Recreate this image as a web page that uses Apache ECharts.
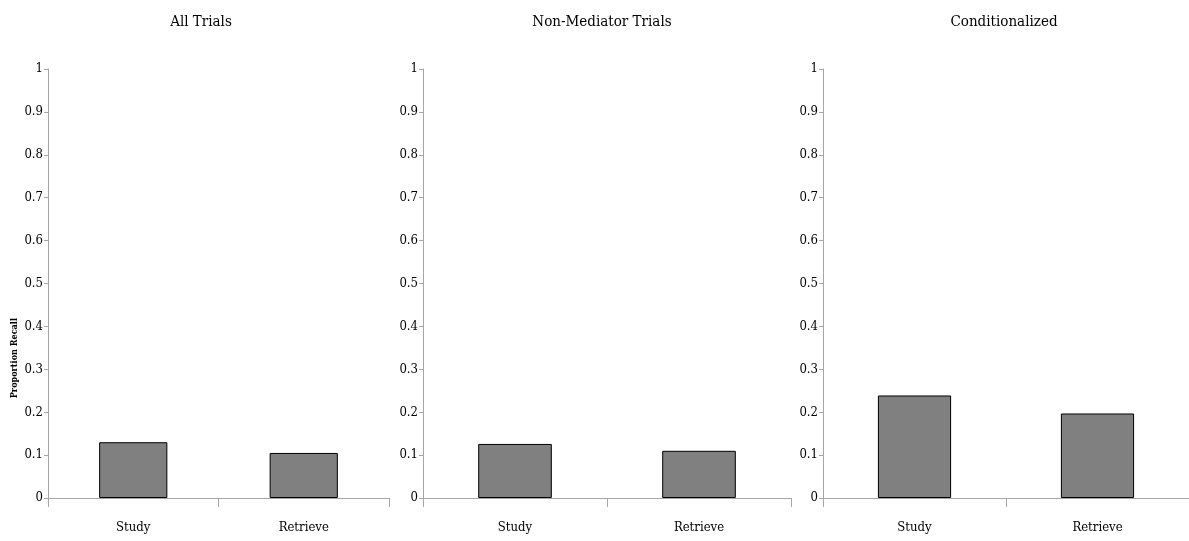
<!DOCTYPE html>
<html>
<head>
<meta charset="utf-8">
<script src="https://cdn.jsdelivr.net/npm/echarts@6/dist/echarts.min.js"></script>
<style>
  html, body { margin: 0; padding: 0; background: #fff; }
  #chart { width: 1189px; height: 541px; }
</style>
</head>
<body>
<div id="chart"></div>
<script>
// --- 数据 ---
const categories = ['Study', 'Retrieve'];
const panelTitles = ['All Trials', 'Non-Mediator Trials', 'Conditionalized'];
const allTrials = [0.13, 0.105];
const nonMediatorTrials = [0.126, 0.11];
const conditionalized = [0.239, 0.197];
const yMin = 0;
const yMax = 1;
const yStep = 0.1;
const yAxisName = 'Proportion Recall';

const seriesData = [allTrials, nonMediatorTrials, conditionalized];

// --- 布局 ---
const FONT = "'DejaVu Serif Condensed', 'Liberation Sans Narrow', 'Liberation Serif', serif";
const AXIS_COLOR = '#a6a6a6';
const panels = [
  { left: 48, width: 341, titleX: 196 },
  { left: 423, width: 368, titleX: 597 },
  { left: 823, width: 370, titleX: 999 }
];

const chart = echarts.init(document.getElementById('chart'));

const option = {
  animation: false,
  title: panels.map((p, i) => ({
    text: panelTitles[i],
    left: p.titleX,
    top: 10,
    textAlign: 'center',
    textStyle: { fontFamily: FONT, fontWeight: 'normal', fontSize: 15, color: '#000' }
  })),
  grid: panels.map(p => ({ left: p.left, width: p.width, top: 69, height: 429 })),
  xAxis: panels.map((p, i) => ({
    type: 'category',
    gridIndex: i,
    data: categories,
    axisLine: { lineStyle: { color: AXIS_COLOR, width: 1 } },
    axisTick: { show: true, length: 9, interval: 0, lineStyle: { color: AXIS_COLOR } },
    axisLabel: { margin: 23, fontFamily: FONT, fontSize: 13, color: '#000' }
  })),
  yAxis: panels.map((p, i) => ({
    type: 'value',
    gridIndex: i,
    min: yMin,
    max: yMax,
    interval: yStep,
    axisLine: { show: true, lineStyle: { color: AXIS_COLOR, width: 1 } },
    axisTick: { show: true, length: 4, lineStyle: { color: AXIS_COLOR } },
    axisLabel: { margin: 5, fontFamily: FONT, fontSize: 13, color: '#000' },
    splitLine: { show: false }
  })),
  series: seriesData.map((d, i) => ({
    type: 'bar',
    xAxisIndex: i,
    yAxisIndex: i,
    data: d,
    barWidth: '40%',
    itemStyle: { color: '#808080', borderColor: '#000', borderWidth: 1 }
  })),
  graphic: [
    {
      type: 'text',
      left: 10,
      top: 318,
      rotation: Math.PI / 2,
      style: {
        text: yAxisName,
        fontFamily: FONT,
        fontWeight: 'bold',
        fontSize: 9,
        fill: '#000'
      }
    }
  ]
};

chart.setOption(option);
window.addEventListener('resize', () => chart.resize());
</script>
</body>
</html>
